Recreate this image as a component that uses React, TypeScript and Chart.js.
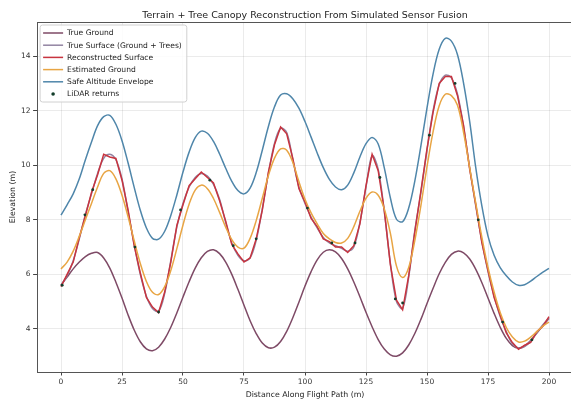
import React, { useEffect, useRef } from "react";
import { Chart, registerables } from "chart.js";

Chart.register(...registerables);

const TITLE = "Terrain + Tree Canopy Reconstruction From Simulated Sensor Fusion";
const X_LABEL = "Distance Along Flight Path (m)";
const Y_LABEL = "Elevation (m)";

const X_TICKS = [0, 25, 50, 75, 100, 125, 150, 175, 200];
const Y_TICKS = [4, 6, 8, 10, 12, 14];

const DISTANCE = [
  0, 2.5, 5, 7.5, 10, 12.5, 15, 17.5, 20, 22.5, 25, 27.5, 30, 32.5, 35, 37.5, 40,
  42.5, 45, 47.5, 50, 52.5, 55, 57.5, 60, 62.5, 65, 67.5, 70, 72.5, 75, 77.5, 80,
  82.5, 85, 87.5, 90, 92.5, 95, 97.5, 100, 102.5, 105, 107.5, 110, 112.5, 115, 117.5, 120,
  122.5, 125, 127.5, 130, 132.5, 135, 137.5, 140, 142.5, 145, 147.5, 150, 152.5, 155, 157.5, 160,
  162.5, 165, 167.5, 170, 172.5, 175, 177.5, 180, 182.5, 185, 187.5, 190, 192.5, 195, 197.5, 200,
];

const TRUE_GROUND = [
  5.6, 5.9, 6.2, 6.45, 6.65, 6.77, 6.8, 6.6, 6.23, 5.71, 5.13, 4.51, 3.96, 3.53, 3.27, 3.2, 3.33,
  3.63, 4.06, 4.59, 5.17, 5.73, 6.23, 6.61, 6.84, 6.9, 6.76, 6.45, 6.0, 5.45, 4.87, 4.3, 3.83,
  3.48, 3.31, 3.33, 3.54, 3.91, 4.41, 4.98, 5.57, 6.1, 6.53, 6.81, 6.9, 6.82, 6.58, 6.2, 5.72,
  5.18, 4.61, 4.08, 3.61, 3.26, 3.05, 3.0, 3.12, 3.41, 3.83, 4.35, 4.93, 5.49, 6.02, 6.44, 6.73,
  6.85, 6.79, 6.56, 6.18, 5.69, 5.13, 4.57, 4.06, 3.65, 3.39, 3.3, 3.38, 3.58, 3.85, 4.12, 4.38,
];

const TRUE_SURFACE = [
  5.6, 5.95, 6.5, 7.3, 8.2, 8.95, 9.7, 10.25, 10.4, 10.2, 9.5, 8.3, 7.1, 6.0, 5.2, 4.75, 4.65,
  5.3, 6.5, 7.75, 8.6, 9.2, 9.55, 9.7, 9.6, 9.3, 8.75, 7.9, 7.15, 6.7, 6.5, 6.6, 7.25,
  8.4, 9.7, 10.8, 11.35, 11.2, 10.2, 9.2, 8.6, 8.1, 7.7, 7.35, 7.15, 7.05, 6.95, 6.85, 7.0,
  7.9, 9.2, 10.35, 9.85, 8.3, 6.4, 5.0, 4.75, 5.9, 7.6, 9.0, 10.55, 12.0, 12.95, 13.3, 13.2,
  12.6, 11.4, 9.9, 8.5, 7.2, 6.1, 5.2, 4.45, 3.9, 3.45, 3.3, 3.35, 3.55, 3.85, 4.15, 4.4,
];

const RECONSTRUCTED = [
  5.55, 6.0, 6.45, 7.35, 8.15, 9.0, 9.65, 10.4, 10.3, 10.25, 9.45, 8.35, 7.05, 6.05, 5.15, 4.8, 4.6,
  5.35, 6.45, 7.8, 8.55, 9.25, 9.5, 9.75, 9.55, 9.35, 8.7, 7.95, 7.1, 6.75, 6.45, 6.6, 7.3,
  8.35, 9.75, 10.75, 11.4, 11.15, 10.25, 9.15, 8.65, 8.05, 7.75, 7.3, 7.2, 7.0, 7.0, 6.8, 7.05,
  7.85, 9.25, 10.4, 9.8, 8.35, 6.35, 5.05, 4.7, 5.95, 7.55, 9.05, 10.6, 11.95, 13.0, 13.25, 13.25,
  12.55, 11.45, 9.85, 8.55, 7.15, 6.15, 5.15, 4.5, 3.85, 3.5, 3.25, 3.4, 3.5, 3.9, 4.1, 4.45,
];

const ESTIMATED_GROUND = [
  6.2, 6.45, 6.85, 7.4, 8.0, 8.6, 9.2, 9.7, 9.8, 9.5, 8.9, 8.11, 7.23, 6.4, 5.74, 5.34, 5.26,
  5.55, 6.14, 6.95, 7.81, 8.57, 9.09, 9.27, 9.14, 8.78, 8.27, 7.73, 7.27, 7.0, 6.96, 7.32, 7.97,
  8.79, 9.62, 10.26, 10.6, 10.55, 10.1, 9.4, 8.75, 8.25, 7.85, 7.5, 7.3, 7.17, 7.15, 7.32, 7.75,
  8.31, 8.79, 9.02, 8.9, 8.4, 7.5, 6.3, 5.88, 6.25, 7.24, 8.52, 9.95, 11.23, 12.18, 12.6, 12.55,
  12.2, 11.2, 9.9, 8.6, 7.35, 6.25, 5.35, 4.6, 4.05, 3.7, 3.52, 3.55, 3.7, 3.9, 4.1, 4.25,
];

const SAFE_ENVELOPE = [
  8.17, 8.55, 8.95, 9.5, 10.2, 10.85, 11.45, 11.78, 11.83, 11.5, 10.9, 10.08, 9.19, 8.35, 7.7, 7.32, 7.29,
  7.58, 8.16, 8.92, 9.75, 10.48, 11.01, 11.25, 11.17, 10.87, 10.41, 9.89, 9.41, 9.07, 8.95, 9.16, 9.73,
  10.55, 11.42, 12.14, 12.57, 12.62, 12.44, 12.09, 11.6, 11.03, 10.45, 9.91, 9.48, 9.2, 9.1, 9.27, 9.72,
  10.3, 10.79, 11.02, 10.78, 9.9, 8.8, 8.02, 7.93, 8.43, 9.42, 10.71, 12.1, 13.35, 14.25, 14.65, 14.55,
  14.05, 13.0, 11.6, 9.9, 8.5, 7.4, 6.7, 6.25, 5.95, 5.72, 5.6, 5.62, 5.75, 5.92, 6.08, 6.22,
];

const LIDAR_X = [0.5, 9.8, 13, 30.3, 40, 49, 61, 70.6, 80, 101, 111, 120.5, 130.7, 137, 140, 151, 161.5, 171, 181, 193];
const LIDAR_Y = [5.6, 8.18, 9.1, 7.0, 4.62, 8.36, 9.45, 7.05, 7.3, 8.43, 7.15, 7.15, 9.55, 5.1, 4.95, 11.1, 13.0, 8.0, 4.25, 3.6];

const COLORS = {
  ground: "#7e4a66",
  surface: "#9284a2",
  recon: "#c8343f",
  est: "#e8a544",
  safe: "#4f86aa",
  lidar: "#123d2a",
};

const FONT = '"DejaVu Sans", sans-serif';

const toXY = (xs: number[], ys: number[]) => xs.map((x, i) => ({ x, y: ys[i] }));

const titlePlugin = {
  id: "mplTitle",
  afterDraw(chart: any) {
    const { ctx, chartArea: ca } = chart;
    ctx.save();
    ctx.font = `9.5px ${FONT}`;
    ctx.fillStyle = "#222";
    ctx.textAlign = "center";
    ctx.textBaseline = "middle";
    ctx.fillText(TITLE, (ca.left + ca.right) / 2, 15.5);
    ctx.restore();
  },
};

const framePlugin = {
  id: "mplFrame",
  afterDatasetsDraw(chart: any) {
    const { ctx, chartArea: ca } = chart;
    ctx.save();
    ctx.strokeStyle = "#555";
    ctx.lineWidth = 1;
    ctx.strokeRect(Math.round(ca.left) + 0.5, Math.round(ca.top) + 0.5, Math.round(ca.right - ca.left), Math.round(ca.bottom - ca.top));
    ctx.restore();
  },
};

const legendPlugin = {
  id: "mplLegend",
  afterDraw(chart: any) {
    const { ctx, chartArea: ca } = chart;
    ctx.save();
    const fs = 7.6;
    ctx.font = `${fs}px ${FONT}`;
    const items = chart.data.datasets.map((ds: any) => ({
      label: ds.label,
      color: ds.showLine === false ? ds.backgroundColor : ds.borderColor,
      point: ds.showLine === false,
    }));
    const textW = Math.max(...items.map((it: any) => ctx.measureText(it.label).width));
    const x0 = ca.left + 3.5;
    const y0 = ca.top + 3;
    const rowH = 12.2;
    const w = 27 + textW + 5;
    const h = 16 + (items.length - 1) * rowH;
    const r = 2.5;
    ctx.beginPath();
    ctx.moveTo(x0 + r, y0);
    ctx.lineTo(x0 + w - r, y0);
    ctx.quadraticCurveTo(x0 + w, y0, x0 + w, y0 + r);
    ctx.lineTo(x0 + w, y0 + h - r);
    ctx.quadraticCurveTo(x0 + w, y0 + h, x0 + w - r, y0 + h);
    ctx.lineTo(x0 + r, y0 + h);
    ctx.quadraticCurveTo(x0, y0 + h, x0, y0 + h - r);
    ctx.lineTo(x0, y0 + r);
    ctx.quadraticCurveTo(x0, y0, x0 + r, y0);
    ctx.closePath();
    ctx.fillStyle = "rgba(255,255,255,0.85)";
    ctx.fill();
    ctx.strokeStyle = "#d0d0d0";
    ctx.lineWidth = 1;
    ctx.stroke();
    items.forEach((it: any, i: number) => {
      const cy = y0 + 8 + i * rowH;
      if (it.point) {
        ctx.beginPath();
        ctx.arc(x0 + 13, cy, 1.8, 0, Math.PI * 2);
        ctx.fillStyle = it.color;
        ctx.fill();
      } else {
        ctx.beginPath();
        ctx.moveTo(x0 + 3, cy);
        ctx.lineTo(x0 + 23, cy);
        ctx.strokeStyle = it.color;
        ctx.lineWidth = 1.5;
        ctx.stroke();
      }
      ctx.fillStyle = "#222";
      ctx.textAlign = "left";
      ctx.textBaseline = "middle";
      ctx.fillText(it.label, x0 + 27, cy + 0.5);
    });
    ctx.restore();
  },
};

export default function App() {
  const ref = useRef<HTMLCanvasElement | null>(null);

  useEffect(() => {
    if (!ref.current) return;
    const lineDs = (label: string, ys: number[], color: string, order: number, smooth = true) => ({
      label,
      data: toXY(DISTANCE, ys),
      borderColor: color,
      backgroundColor: color,
      borderWidth: 1.5,
      pointRadius: 0,
      fill: false,
      tension: smooth ? 0.35 : 0,
      order,
    });
    const chart = new Chart(ref.current, {
      type: "line",
      data: {
        datasets: [
          lineDs("True Ground", TRUE_GROUND, COLORS.ground, 6),
          lineDs("True Surface (Ground + Trees)", TRUE_SURFACE, COLORS.surface, 5),
          lineDs("Reconstructed Surface", RECONSTRUCTED, COLORS.recon, 4, false),
          lineDs("Estimated Ground", ESTIMATED_GROUND, COLORS.est, 3),
          lineDs("Safe Altitude Envelope", SAFE_ENVELOPE, COLORS.safe, 2),
          {
            label: "LiDAR returns",
            data: toXY(LIDAR_X, LIDAR_Y),
            showLine: false,
            borderColor: COLORS.lidar,
            backgroundColor: COLORS.lidar,
            pointRadius: 1.4,
            pointBorderWidth: 0,
            order: 1,
          } as any,
        ],
      },
      options: {
        animation: false,
        responsive: false,
        devicePixelRatio: 1,
        layout: { padding: { left: 0, top: 22, right: 16.6, bottom: 0 } },
        plugins: {
          legend: { display: false },
          title: { display: false },
          tooltip: { enabled: false },
        },
        scales: {
          x: {
            type: "linear",
            min: -10,
            max: 210,
            afterFit(scale: any) {
              scale.height = 29;
            },
            afterBuildTicks(scale: any) {
              scale.ticks = X_TICKS.map((v) => ({ value: v }));
            },
            border: { display: false },
            grid: { color: "rgba(0,0,0,0.08)", tickColor: "#444", tickLength: 3.5, drawTicks: true },
            ticks: { color: "#333", font: { family: FONT, size: 7.5 }, padding: 2, maxRotation: 0 },
            title: { display: true, text: X_LABEL, color: "#222", font: { family: FONT, size: 7.8 }, padding: { top: 0, bottom: 1.3 } },
          },
          y: {
            type: "linear",
            min: 2.42,
            max: 15.25,
            afterFit(scale: any) {
              scale.width = 36.6;
            },
            afterBuildTicks(scale: any) {
              scale.ticks = Y_TICKS.map((v) => ({ value: v }));
            },
            border: { display: false },
            grid: { color: "rgba(0,0,0,0.08)", tickColor: "#444", tickLength: 3.5, drawTicks: true },
            ticks: { color: "#333", font: { family: FONT, size: 7.5 }, padding: 2.5 },
            title: { display: true, text: Y_LABEL, color: "#222", font: { family: FONT, size: 7.8 }, padding: { top: 8.3, bottom: 0 } },
          },
        },
      },
      plugins: [framePlugin, titlePlugin, legendPlugin],
    } as any);
    return () => chart.destroy();
  }, []);

  return (
    <div style={{ position: "fixed", left: 0, top: 0, width: 571, height: 401, overflow: "hidden", background: "#fff" }}>
      <canvas ref={ref} width={590} height={401} style={{ width: 590, height: 401, display: "block" }} />
    </div>
  );
}
